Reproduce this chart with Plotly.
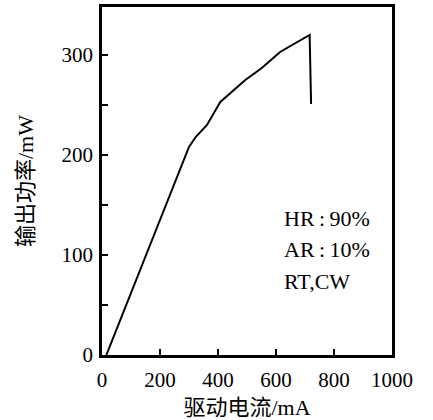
import plotly.graph_objects as go

current_mA = [15, 100, 200, 300, 323, 362, 408, 448, 494, 551, 614, 716, 721]
power_mW = [0, 62, 135, 208, 218, 230, 253, 263, 275, 287, 303, 320, 251]

x_ticks = [0, 200, 400, 600, 800, 1000]
y_ticks = [0, 100, 200, 300]
notes = ["HR\u2009:\u200990%", "AR\u2009:\u200910%", "RT,CW"]
note_y = [137, 106, 74]

SERIF = "Liberation Serif"
MIXED = "Liberation Serif, Noto Sans CJK SC"

fig = go.Figure()
fig.add_trace(go.Scatter(x=current_mA, y=power_mW, mode="lines",
                         line=dict(color="black", width=2), showlegend=False))

for t, yy in zip(notes, note_y):
    fig.add_annotation(x=620, y=yy, text=t, showarrow=False, xanchor="left",
                       yanchor="middle", font=dict(family=SERIF, size=22, color="black"))

fig.update_layout(
    width=433, height=420,
    margin=dict(l=102, r=41, t=7, b=65),
    plot_bgcolor="white", paper_bgcolor="white",
    font=dict(family=SERIF, color="black"),
    xaxis=dict(range=[0, 1000], tickvals=x_ticks, ticks="inside", ticklen=6,
               tickwidth=1.5, tickcolor="black", showline=True, mirror=True,
               linewidth=2.5, linecolor="black", showgrid=False, zeroline=False,
               automargin=False,
               tickfont=dict(family=SERIF, size=21, color="black"),
               ticklabelstandoff=4,
               title=dict(text="驱动电流/mA", font=dict(family=MIXED, size=22, color="black"), standoff=13)),
    yaxis=dict(range=[0, 348], tickvals=y_ticks, ticks="inside", ticklen=6,
               tickwidth=1.5, tickcolor="black", showline=True, mirror=True,
               linewidth=2.5, linecolor="black", showgrid=False, zeroline=False,
               automargin=False,
               minor=dict(dtick=50, ticks="inside", ticklen=6, tickwidth=1.5, tickcolor="black"),
               tickfont=dict(family=SERIF, size=21, color="black"),
               ticklabelstandoff=2,
               title=dict(text="输出功率/mW", font=dict(family=MIXED, size=22, color="black"), standoff=22)),
)

fig.write_html("out.html")
